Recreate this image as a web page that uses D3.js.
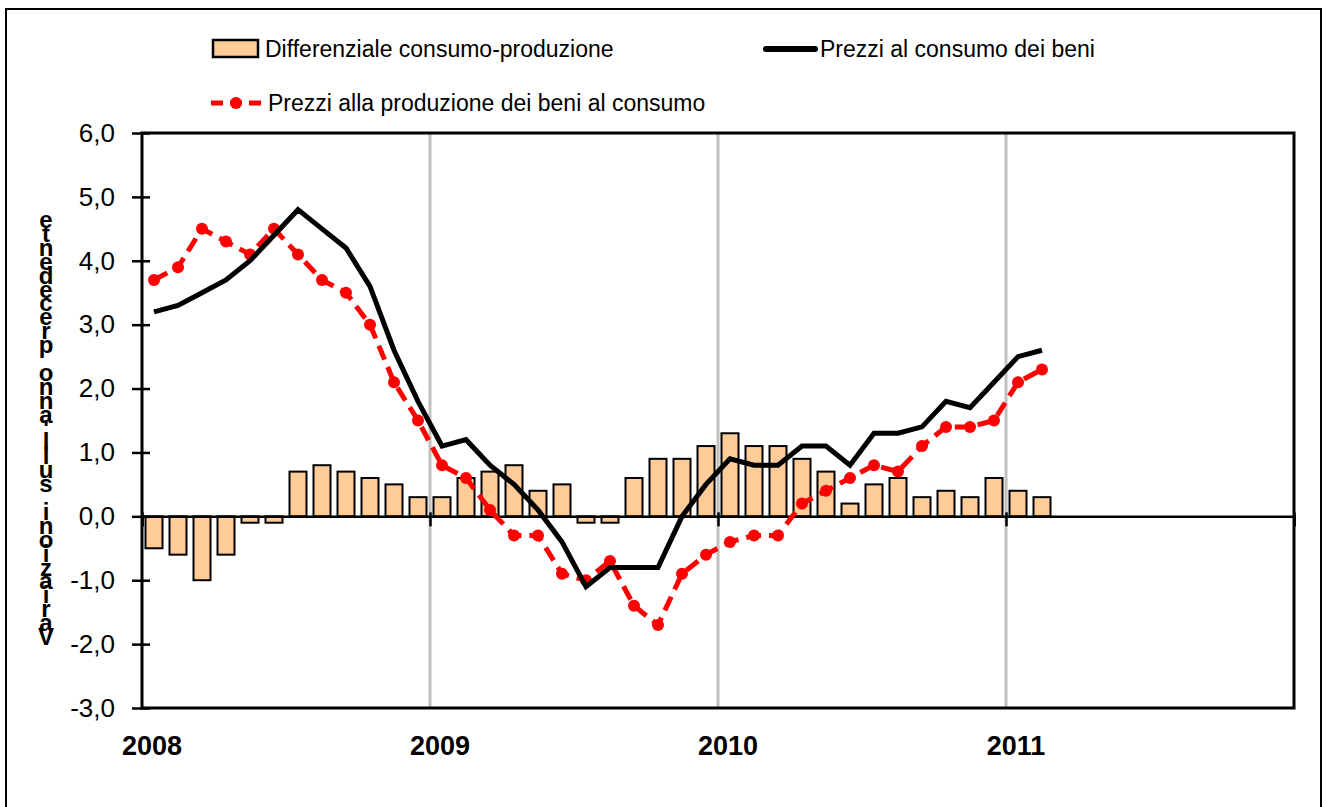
<!DOCTYPE html>
<html>
<head>
<meta charset="utf-8">
<script src="https://cdn.jsdelivr.net/npm/d3@7"></script>
<style>
  body { margin: 0; background: #fff; }
  text { font-family: "Liberation Sans", Arial, sans-serif; }
</style>
</head>
<body>
<script>
// Data: monthly, Jan 2008 - Feb 2011
var years = ["2008", "2009", "2010", "2011"];
var differenziale = [-0.5, -0.6, -1.0, -0.6, -0.1, -0.1, 0.7, 0.8, 0.7, 0.6, 0.5, 0.3,
  0.3, 0.6, 0.7, 0.8, 0.4, 0.5, -0.1, -0.1, 0.6, 0.9, 0.9, 1.1,
  1.3, 1.1, 1.1, 0.9, 0.7, 0.2, 0.5, 0.6, 0.3, 0.4, 0.3, 0.6,
  0.4, 0.3];
var consumo = [3.2, 3.3, 3.5, 3.7, 4.0, 4.4, 4.8, 4.5, 4.2, 3.6, 2.6, 1.8,
  1.1, 1.2, 0.8, 0.5, 0.1, -0.4, -1.1, -0.8, -0.8, -0.8, 0.0, 0.5,
  0.9, 0.8, 0.8, 1.1, 1.1, 0.8, 1.3, 1.3, 1.4, 1.8, 1.7, 2.1,
  2.5, 2.6];
var produzione = [3.7, 3.9, 4.5, 4.3, 4.1, 4.5, 4.1, 3.7, 3.5, 3.0, 2.1, 1.5,
  0.8, 0.6, 0.1, -0.3, -0.3, -0.9, -1.0, -0.7, -1.4, -1.7, -0.9, -0.6,
  -0.4, -0.3, -0.3, 0.2, 0.4, 0.6, 0.8, 0.7, 1.1, 1.4, 1.4, 1.5,
  2.1, 2.3];
var yTicks = [-3, -2, -1, 0, 1, 2, 3, 4, 5, 6];
var yLabel = "Variazioni sull'anno precedente";

var svgWidth = 1326, svgHeight = 807;
var plot = { left: 142, right: 1294, top: 133, bottom: 708 };

var svg = d3.select("body").append("svg")
  .attr("width", svgWidth)
  .attr("height", svgHeight);

// outer frame
svg.append("rect")
  .attr("x", 6).attr("y", 9)
  .attr("width", 1315).attr("height", 820)
  .attr("fill", "none").attr("stroke", "#000").attr("stroke-width", 2);

// scales: month index, 48 months shown (2008-2011)
var x = d3.scaleLinear().domain([0, 48]).range([plot.left, plot.right]);
var y = d3.scaleLinear().domain([-3, 6]).range([plot.bottom, plot.top]);
var fmt = d => d.toFixed(1).replace(".", ",");

// year gridlines
svg.append("g").selectAll("line")
  .data([12, 24, 36])
  .enter().append("line")
  .attr("x1", d => x(d)).attr("x2", d => x(d))
  .attr("y1", plot.top).attr("y2", plot.bottom)
  .attr("stroke", "#c0c0c0").attr("stroke-width", 3);

// bars
var barW = 17;
svg.append("g").selectAll("rect")
  .data(differenziale)
  .enter().append("rect")
  .attr("x", (d, i) => x(i + 0.5) - barW / 2)
  .attr("y", d => y(Math.max(0, d)))
  .attr("width", barW)
  .attr("height", d => Math.abs(y(d) - y(0)))
  .attr("fill", "#ffcc99")
  .attr("stroke", "#000")
  .attr("stroke-width", 2);

// zero axis with year ticks
var zeroAxis = svg.append("g")
  .attr("transform", `translate(0, ${y(0)})`)
  .call(d3.axisBottom(x).tickValues([0, 12, 24, 36, 48]).tickSize(10).tickFormat(""));
zeroAxis.select(".domain").attr("stroke-width", 2.5);
zeroAxis.selectAll(".tick line").attr("stroke-width", 2.5).attr("y1", -4);

// lines
var lineGen = d3.line()
  .x((d, i) => x(i + 0.5))
  .y(d => y(d));

svg.append("path")
  .datum(produzione)
  .attr("d", lineGen)
  .attr("fill", "none")
  .attr("stroke", "#ff0000")
  .attr("stroke-width", 5)
  .attr("stroke-dasharray", "15,8");

svg.append("g").selectAll("circle")
  .data(produzione)
  .enter().append("circle")
  .attr("cx", (d, i) => x(i + 0.5))
  .attr("cy", d => y(d))
  .attr("r", 6)
  .attr("fill", "#ff0000");

svg.append("path")
  .datum(consumo)
  .attr("d", lineGen)
  .attr("fill", "none")
  .attr("stroke", "#000")
  .attr("stroke-width", 5)
  .attr("stroke-linejoin", "miter");

// plot border
svg.append("rect")
  .attr("x", plot.left).attr("y", plot.top)
  .attr("width", plot.right - plot.left).attr("height", plot.bottom - plot.top)
  .attr("fill", "none").attr("stroke", "#000").attr("stroke-width", 3);

// left axis
var leftAxis = svg.append("g")
  .attr("transform", `translate(${plot.left}, 0)`)
  .call(d3.axisLeft(y).tickValues(yTicks).tickSize(10).tickPadding(17).tickFormat(fmt));
leftAxis.select(".domain").remove();
leftAxis.selectAll(".tick line").attr("x2", 8).attr("x1", -10).attr("stroke-width", 2.5);
leftAxis.selectAll(".tick text")
  .attr("font-size", 26)
  .attr("font-family", "Liberation Sans, Arial, sans-serif")
  .attr("fill", "#000");

// year labels
svg.append("g").selectAll("text")
  .data(years)
  .enter().append("text")
  .attr("x", (d, i) => x(i * 12) + 10)
  .attr("y", 755)
  .attr("text-anchor", "middle")
  .attr("font-size", 27)
  .attr("font-weight", "bold")
  .text(d => d);

// stacked y label (letters upright, reversed, bottom to top)
var chars = yLabel.split("");
svg.append("g").selectAll("text")
  .data(chars)
  .enter().append("text")
  .attr("x", 46)
  .attr("y", (d, i) => 645 - i * 13.9)
  .attr("text-anchor", "middle")
  .attr("font-size", 24)
  .attr("font-weight", "bold")
  .text(d => d);

// legend
var legend = svg.append("g");
legend.append("rect")
  .attr("x", 213).attr("y", 40).attr("width", 45).attr("height", 17)
  .attr("fill", "#ffcc99").attr("stroke", "#000").attr("stroke-width", 2.5);
legend.append("text")
  .attr("x", 265).attr("y", 57).attr("font-size", 23)
  .text("Differenziale consumo-produzione");

legend.append("line")
  .attr("x1", 766).attr("x2", 815).attr("y1", 49).attr("y2", 49)
  .attr("stroke", "#000").attr("stroke-width", 6).attr("stroke-linecap", "round");
legend.append("text")
  .attr("x", 820).attr("y", 57).attr("font-size", 23)
  .text("Prezzi al consumo dei beni");

legend.append("line")
  .attr("x1", 211).attr("x2", 261).attr("y1", 103).attr("y2", 103)
  .attr("stroke", "#ff0000").attr("stroke-width", 5).attr("stroke-dasharray", "12,7");
legend.append("circle")
  .attr("cx", 236).attr("cy", 103).attr("r", 6).attr("fill", "#ff0000");
legend.append("text")
  .attr("x", 268).attr("y", 111).attr("font-size", 23)
  .text("Prezzi alla produzione dei beni al consumo");
</script>
</body>
</html>
